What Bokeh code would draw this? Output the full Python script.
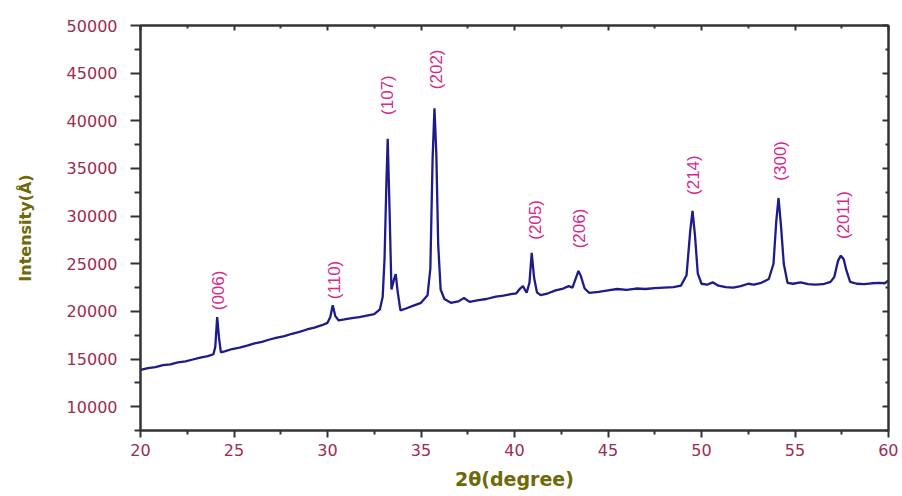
import math
from bokeh.plotting import figure
from bokeh.models import (ColumnDataSource, LinearAxis, FixedTicker, Range1d,
                          CustomJSTickFormatter)
from bokeh.core.properties import value
from bokeh.embed import file_html
from bokeh.resources import INLINE

# ---- data ----
two_theta = [
    20.0, 20.4, 20.8, 21.2, 21.6, 22.0, 22.4, 22.8, 23.2, 23.6, 23.9,
    24.0, 24.1, 24.2, 24.3, 24.5, 24.9, 25.3, 25.7, 26.1, 26.5, 26.9,
    27.3, 27.7, 28.1, 28.5, 28.9, 29.3, 29.7, 30.0, 30.15, 30.28, 30.42,
    30.6, 30.9, 31.3, 31.7, 32.1, 32.5, 32.8, 32.95, 33.05, 33.15, 33.22,
    33.32, 33.42, 33.55, 33.65, 33.75, 33.9, 34.2, 34.6, 35.0, 35.35,
    35.5, 35.62, 35.72, 35.82, 35.92, 36.05, 36.25, 36.6, 37.0, 37.3,
    37.6, 38.0, 38.5, 39.0, 39.4, 39.8, 40.1, 40.3, 40.45, 40.65, 40.8,
    40.92, 41.05, 41.2, 41.4, 41.8, 42.2, 42.6, 42.9, 43.1, 43.3, 43.42,
    43.55, 43.75, 44.0, 44.5, 45.0, 45.5, 46.0, 46.5, 47.0, 47.5, 48.0,
    48.5, 48.9, 49.2, 49.4, 49.52, 49.65, 49.8, 50.0, 50.3, 50.6, 50.9,
    51.3, 51.7, 52.1, 52.5, 52.8, 53.2, 53.6, 53.85, 54.0, 54.12, 54.25,
    54.4, 54.6, 54.9, 55.3, 55.7, 56.1, 56.5, 56.9, 57.1, 57.3, 57.45,
    57.6, 57.75, 57.95, 58.3, 58.7, 59.1, 59.5, 59.8, 60.0,
]
intensity = [
    13850, 14050, 14150, 14350, 14450, 14650, 14750, 14950, 15150, 15300, 15500,
    16300, 19400, 17200, 15700, 15800, 16050, 16200, 16400, 16650, 16800, 17050,
    17250, 17400, 17650, 17850, 18100, 18300, 18550, 18800, 19400, 20650, 19500,
    19050, 19150, 19300, 19400, 19550, 19700, 20200, 21500, 25500, 33500, 38100,
    30500, 22300, 23300, 23900, 22100, 20100, 20300, 20600, 20900, 21700,
    24500, 36000, 41300, 36500, 27000, 22300, 21300, 20900, 21050, 21400,
    21000, 21150, 21300, 21550, 21650, 21800, 21900, 22400, 22650, 21950, 23000,
    26150, 23500, 22000, 21700, 21900, 22200, 22400, 22650, 22500, 23600, 24250,
    23700, 22400, 21950, 22050, 22200, 22350, 22250, 22400, 22350, 22450, 22500,
    22550, 22700, 23800, 28500, 30550, 28000, 24000, 22900, 22800, 23050, 22700,
    22550, 22500, 22650, 22900, 22800, 23000, 23400, 25000, 29500, 31900, 29000,
    25000, 23000, 22900, 23050, 22850, 22800, 22850, 23100, 23600, 25300, 25850,
    25500, 24300, 23100, 22900, 22850, 22950, 23000, 22950, 23250,
]

peak_labels = ["(006)", "(110)", "(107)", "(202)", "(205)", "(206)", "(214)", "(300)", "(2011)"]
label_x = [24.15, 30.35, 33.2, 35.85, 41.1, 43.5, 49.55, 54.2, 57.6]
label_y = [22200, 23300, 42700, 45400, 29600, 28700, 34300, 35800, 30100]

x_ticks = [20, 25, 30, 35, 40, 45, 50, 55, 60]
y_ticks = [10000, 15000, 20000, 25000, 30000, 35000, 40000, 45000, 50000]
x_minor = [22.5, 27.5, 32.5, 37.5, 42.5, 47.5, 52.5, 57.5]
y_minor = [7500, 12500, 17500, 22500, 27500, 32500, 37500, 42500, 47500]

# ---- styles ----
TICK_COLOR = "#9b2d4f"
TITLE_COLOR = "#6e6a0a"
LINE_COLOR = "#1c1c8a"
LABEL_COLOR = "#d42a8c"
AXIS_COLOR = "#333333"

p = figure(width=898, height=496, output_backend="svg", toolbar_location=None,
           x_range=Range1d(20, 60), y_range=Range1d(7500, 50000),
           min_border_left=140, min_border_right=10, min_border_top=25,
           min_border_bottom=66)
p.xgrid.visible = False
p.ygrid.visible = False
p.outline_line_color = AXIS_COLOR
p.outline_line_width = 2
p.background_fill_color = "white"
p.border_fill_color = "white"

src = ColumnDataSource(dict(x=two_theta, y=intensity))
p.line("x", "y", source=src, line_color=LINE_COLOR, line_width=2.3)

lab = ColumnDataSource(dict(x=label_x, y=label_y, t=peak_labels))
p.text("x", "y", text="t", source=lab, angle=math.pi / 2,
       text_align="center", text_baseline="middle", text_color=LABEL_COLOR,
       text_font=value("Liberation Sans"), text_font_size="17px")

def style_axis(ax, ticks, minor):
    ax.ticker = FixedTicker(ticks=ticks, minor_ticks=minor)
    ax.axis_line_color = AXIS_COLOR
    ax.axis_line_width = 2
    ax.major_tick_line_color = AXIS_COLOR
    ax.minor_tick_line_color = AXIS_COLOR
    ax.major_tick_line_width = 2
    ax.minor_tick_line_width = 2

xa = p.xaxis[0]
style_axis(xa, x_ticks, x_minor)
xa.major_tick_out = 7
xa.major_tick_in = 0
xa.minor_tick_out = 4
xa.minor_tick_in = 0
xa.major_label_text_color = TICK_COLOR
xa.major_label_text_font = "DejaVu Sans"
xa.major_label_text_font_size = "16px"
xa.major_label_standoff = 6
xa.axis_label = "2θ(degree)"
xa.axis_label_text_color = TITLE_COLOR
xa.axis_label_text_font = "DejaVu Sans"
xa.axis_label_text_font_style = "bold"
xa.axis_label_text_font_size = "19px"
xa.axis_label_standoff = 9

ya = p.yaxis[0]
style_axis(ya, y_ticks, y_minor)
ya.major_tick_out = 10
ya.major_tick_in = 0
ya.minor_tick_out = 6
ya.minor_tick_in = 0
ya.major_label_text_color = TICK_COLOR
ya.major_label_text_font = "DejaVu Sans"
ya.major_label_text_font_size = "16px"
ya.major_label_standoff = 13
ya.axis_label = "Intensity(Å)"
ya.axis_label_text_color = TITLE_COLOR
ya.axis_label_text_font = "DejaVu Sans"
ya.axis_label_text_font_style = "bold"
ya.axis_label_text_font_size = "16px"
ya.axis_label_standoff = 29

blank = CustomJSTickFormatter(code="return ''")
top = LinearAxis(formatter=blank)
style_axis(top, x_ticks, x_minor)
top.major_tick_in = 5
top.major_tick_out = 0
top.minor_tick_in = 3
top.minor_tick_out = 0
top.major_label_standoff = 0
p.add_layout(top, "above")

right = LinearAxis(formatter=blank)
style_axis(right, y_ticks, y_minor)
right.major_tick_in = 6
right.major_tick_out = 0
right.minor_tick_in = 3
right.minor_tick_out = 0
right.major_label_standoff = 0
p.add_layout(right, "right")

open("out.html", "w").write(file_html(p, INLINE))
